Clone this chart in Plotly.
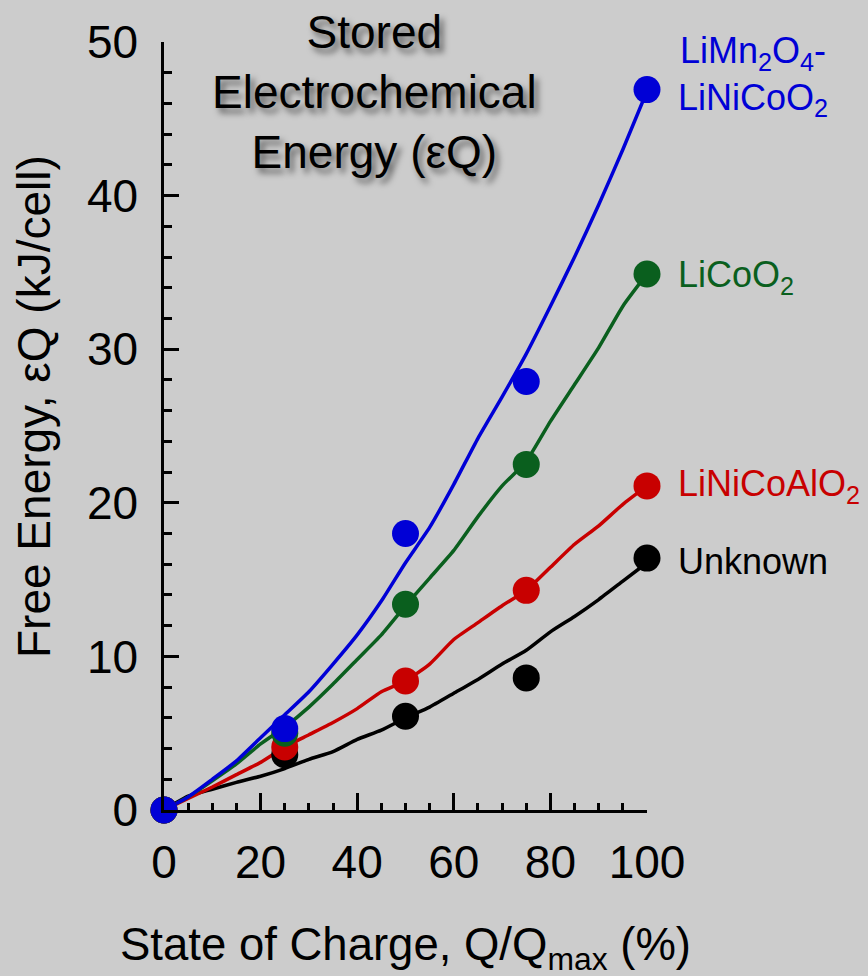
import plotly.graph_objects as go

# ---- data ----
soc_curve = [0, 5, 10, 15, 20, 25, 30, 35, 40, 45, 50, 55, 60, 65, 70, 75, 80, 85, 90, 95, 100]
blue_curve = [0, 0.85, 2.0, 3.2, 4.7, 6.2, 7.7, 9.5, 11.4, 13.6, 16.1, 18.4, 21.2, 24.2, 26.9, 29.7, 32.8, 36.0, 39.4, 43.0, 46.8]
green_curve = [0, 0.85, 1.9, 3.0, 4.3, 5.4, 6.7, 8.2, 9.8, 11.4, 13.3, 15.1, 16.9, 19.1, 21.1, 22.7, 25.3, 27.7, 30.1, 32.8, 34.9]
red_curve = [0, 0.75, 1.5, 2.3, 3.1, 4.1, 4.9, 5.7, 6.6, 7.7, 8.4, 9.5, 11.1, 12.2, 13.3, 14.3, 15.8, 17.3, 18.5, 19.9, 21.1]
black_curve = [0, 0.9, 1.35, 1.8, 2.2, 2.7, 3.3, 3.8, 4.6, 5.2, 6.0, 6.7, 7.6, 8.5, 9.5, 10.4, 11.6, 12.6, 13.7, 14.9, 16.1]

soc_pts = [0, 25, 50, 75, 100]
blue_pts = [0, 5.3, 18.0, 27.9, 46.9]
green_pts = [0, 5.0, 13.4, 22.5, 34.9]
red_pts = [0, 4.1, 8.4, 14.3, 21.1]
black_pts = [0, 3.6, 6.1, 8.6, 16.4]

x_ticks = [0, 20, 40, 60, 80, 100]
y_ticks = [0, 10, 20, 30, 40, 50]

BLUE = "#0000d6"
GREEN = "#0a5f1e"
RED = "#c80000"
BLACK = "#000000"
BG = "#cccccc"
FONT = "Liberation Sans, Arial, sans-serif"

series = [
    (black_curve, black_pts, BLACK),
    (red_curve, red_pts, RED),
    (green_curve, green_pts, GREEN),
    (blue_curve, blue_pts, BLUE),
]

fig = go.Figure()
for curve, pts, col in series:
    fig.add_trace(go.Scatter(x=soc_curve, y=curve, mode="lines",
                             line=dict(color=col, width=3.5, shape="spline", smoothing=0.5),
                             cliponaxis=False, showlegend=False, hoverinfo="skip"))
for curve, pts, col in series:
    fig.add_trace(go.Scatter(x=soc_pts, y=pts, mode="markers",
                             marker=dict(color=col, size=27, line=dict(width=0)),
                             cliponaxis=False, showlegend=False))

def px_x(px):
    return (px - 164) / 483.0

def px_y(py):
    return (810 - py) / 768.0

annos = [
    dict(text="Stored<br>Electrochemical<br>Energy (εQ)", x=px_x(374), y=px_y(4),
         xanchor="center", yanchor="top",
         font=dict(size=46, color="black", family=FONT,
                   shadow="4px 5px 6px rgba(0,0,0,0.55)")),
    dict(text="LiMn<sub>2</sub>O<sub>4</sub>-<br>LiNiCoO<sub>2</sub>", x=px_x(676), y=px_y(76),
         xanchor="left", yanchor="middle", align="center", font=dict(size=36, color=BLUE, family=FONT)),
    dict(text="LiCoO<sub>2</sub>", x=px_x(676), y=px_y(277),
         xanchor="left", yanchor="middle", font=dict(size=36, color=GREEN, family=FONT)),
    dict(text="LiNiCoAlO<sub>2</sub>", x=px_x(676), y=px_y(486),
         xanchor="left", yanchor="middle", font=dict(size=36, color=RED, family=FONT)),
    dict(text="Unknown", x=px_x(676), y=px_y(561),
         xanchor="left", yanchor="middle", font=dict(size=36, color=BLACK, family=FONT)),
    dict(text="State of Charge, Q/Q<sub>max</sub> (%)", x=px_x(405), y=px_y(948),
         xanchor="center", yanchor="middle", font=dict(size=45.5, color="black", family=FONT)),
    dict(text="Free Energy, εQ (kJ/cell)", x=px_x(34), y=px_y(407), textangle=-90,
         xanchor="center", yanchor="middle", font=dict(size=46, color="black", family=FONT)),
]
for a in annos:
    a.update(xref="paper", yref="paper", showarrow=False)

fig.update_layout(
    width=868, height=976,
    margin=dict(l=164, r=221, t=42, b=166),
    paper_bgcolor=BG, plot_bgcolor=BG,
    annotations=annos,
    showlegend=False,
)
fig.update_xaxes(range=[0, 100], tickvals=x_ticks, ticks="inside", ticklen=17, tickwidth=2.5,
                 tickcolor="black", showline=True, linecolor="black", linewidth=2.5,
                 showgrid=False, zeroline=False, ticklabelstandoff=10,
                 tickfont=dict(size=46, color="black", family=FONT),
                 minor=dict(dtick=5, ticks="inside", ticklen=7, tickwidth=2.5, tickcolor="black", showgrid=False))
fig.update_yaxes(range=[0, 50], tickvals=y_ticks, ticks="inside", ticklen=15, tickwidth=2.5,
                 tickcolor="black", showline=True, linecolor="black", linewidth=2.5,
                 showgrid=False, zeroline=False, ticklabelstandoff=14,
                 tickfont=dict(size=46, color="black", family=FONT),
                 minor=dict(dtick=2, ticks="inside", ticklen=8, tickwidth=2.5, tickcolor="black", showgrid=False))

fig.write_html("out.html", config={"displayModeBar": False},
               post_script="document.body.style.margin='0';document.body.style.background='#cccccc';")
